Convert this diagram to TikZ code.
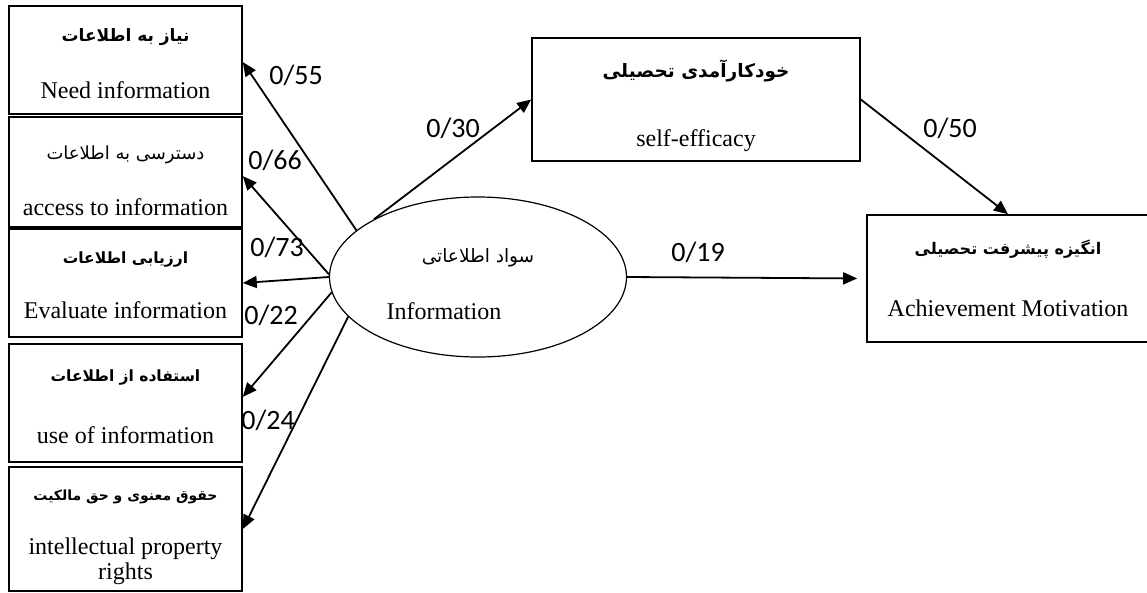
\documentclass[tikz,border=0pt]{standalone}
\usepackage{fontspec}
\setmainfont{Liberation Serif}
\newfontfamily\arabicfont[Script=Arabic]{DejaVu Sans}
\newfontfamily\numfont{Carlito}
\TeXXeTstate=1
\usetikzlibrary{positioning, calc, shapes.geometric, arrows.meta}
\tikzstyle{Arrow} = [
line width=1.8pt,
-{Triangle[length=14pt,width=12pt]}]
\tikzstyle{Box} = [draw, line width=1.6pt, align=center, inner sep=0pt,
font=\fontsize{24}{25}\selectfont]
\tikzstyle{Weight} = [font=\numfont\fontsize{28}{30}\selectfont]
% persian font at a given size
\newcommand{\persreg}[1]{\arabicfont\fontsize{#1}{18}\selectfont}
\newcommand{\persbold}[1]{\arabicfont\bfseries\fontsize{#1}{18}\selectfont}
% struts to place the two lines inside a box
\newcommand{\topgap}[1]{\rule{0pt}{#1pt}}
\newcommand{\botgap}[1]{\rule[-#1pt]{0pt}{#1pt}}

\begin{document}
\begin{tikzpicture}[x=1pt, y=-1pt]
    \useasboundingbox (0,0) rectangle (1147,592);
    \fill[white] (0,0) rectangle (1147,592);

    \node [Box, minimum width=233pt, minimum height=108pt] (1) at (125.5,60)
        {\topgap{31.9}{\persbold{17}\beginR نیاز به اطلاعات\endR}\\[31.2pt]Need information\botgap{12.1}};
    \node [Box, minimum width=233pt, minimum height=110pt] (2) at (125.5,172)
        {\topgap{37}{\persreg{18}\beginR دسترسی به اطلاعات\endR}\\[31pt]access to information\botgap{7}};
    \node [Box, minimum width=233pt, minimum height=108pt] (3) at (125.5,283)
        {\topgap{29.7}{\persbold{15.5}\beginR ارزیابی اطلاعات\endR}\\[29.6pt]Evaluate information\botgap{14.3}};
    \node [Box, minimum width=233pt, minimum height=118pt] (4) at (125.5,403)
        {\topgap{31.2}{\persbold{15.5}\beginR استفاده از اطلاعات\endR}\\[36.6pt]use of information\botgap{12.8}};
    \node [Box, minimum width=233pt, minimum height=122pt] (5) at (125.5,529)
        {\topgap{33.2}{\persbold{14}\beginR حقوق معنوی و حق مالکیت\endR}\\[29.5pt]intellectual property\\rights\botgap{10.8}};
    \node [draw, ellipse, line width=1.2pt, minimum width=297pt, minimum height=160pt,
        inner sep=0pt, align=center, font=\fontsize{24}{25}\selectfont] (6) at (478,277)
        {\topgap{36}{\persreg{18.5}\beginR سواد اطلاعاتی\endR}\\[32.9pt]Information\hspace*{68pt}\botgap{8}};
    \node [Box, minimum width=328pt, minimum height=123pt] (7) at (696,99.5)
        {\topgap{34.2}{\persbold{18.5}\beginR خودکارآمدی تحصیلی\endR}\\[43.6pt]self-efficacy\botgap{9.8}};
    \node [Box, minimum width=282pt, minimum height=127pt] (8) at (1008,278.5)
        {\topgap{28.5}{\persbold{16}\beginR انگیزه پیشرفت تحصیلی\endR}\\[37pt]Achievement Motivation\botgap{15.5}};

    \node [Weight] (w1) at (296,75) {0/55};
    \node [Weight] (w2) at (275,160) {0/66};
    \node [Weight] (w3) at (277,247) {0/73};
    \node [Weight] (w4) at (271,315) {0/22};
    \node [Weight] (w5) at (268,420) {0/24};
    \node [Weight] (w6) at (453,128) {0/30};
    \node [Weight] (w7) at (950,128) {0/50};
    \node [Weight] (w8) at (698,252) {0/19};

    \draw[Arrow] (6.159) -- (1.-1.5);
    \draw[Arrow] (6.179) -- (2.-2.9);
    \draw[Arrow] (6.180) -- (3.east);
    \draw[Arrow] (6.186) -- (4.3.9);
    \draw[Arrow] (6.197) -- (5.east);
    \draw[Arrow] (6.151.5) -- (7.west);
    \draw[Arrow] (7.east) -- (8.north);
    \draw[Arrow, shorten >=9pt] (6.east) -- (8.west);
\end{tikzpicture}
\end{document}
